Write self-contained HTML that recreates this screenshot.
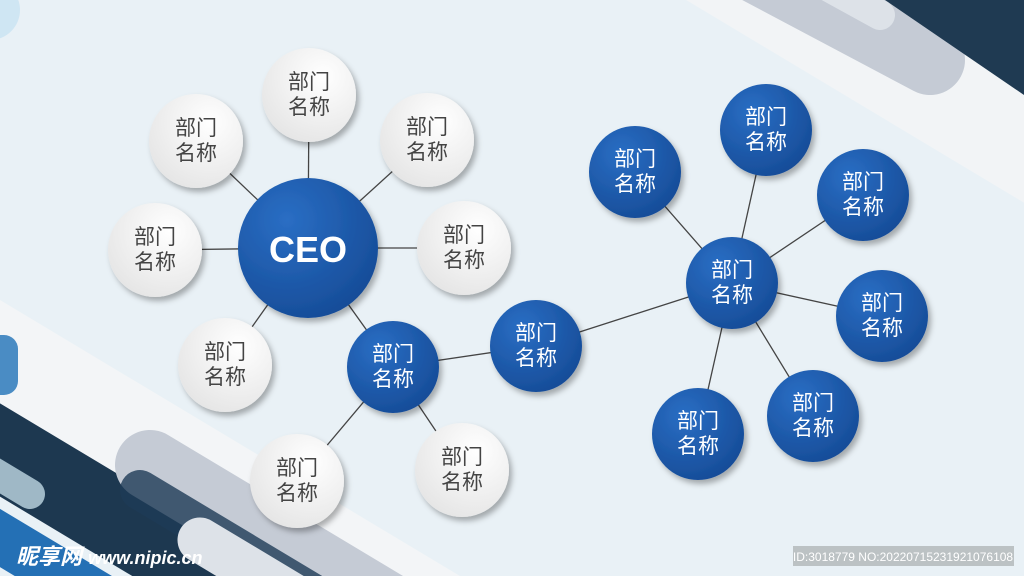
<!DOCTYPE html>
<html><head><meta charset="utf-8"><style>
html,body{margin:0;padding:0;width:1024px;height:576px;overflow:hidden;background:#e9f1f6}
svg{display:block}
text{font-family:"Liberation Sans","Noto Sans CJK SC",sans-serif}
</style></head><body>
<svg width="1024" height="576" viewBox="0 0 1024 576" xmlns="http://www.w3.org/2000/svg">
<defs>
<radialGradient id="bg" cx="35%" cy="30%" r="75%"><stop offset="0" stop-color="#2a6ec4"/><stop offset="1" stop-color="#164c98"/></radialGradient>
<radialGradient id="wg" cx="65%" cy="30%" r="80%"><stop offset="0" stop-color="#ffffff"/><stop offset="1" stop-color="#e4e4e4"/></radialGradient>
<filter id="sh" x="-30%" y="-30%" width="160%" height="160%"><feDropShadow dx="3" dy="4" stdDeviation="3" flood-color="#000" flood-opacity="0.3"/></filter>
</defs>
<rect width="1024" height="576" fill="#e9f1f6"/>
<circle cx="-10" cy="10" r="30" fill="#cfe6f3"/>
<g stroke-linecap="round" fill="none">
<line x1="-100" y1="310" x2="700" y2="790" stroke="#f3f5f7" stroke-width="120"/>
<line x1="-100" y1="390" x2="500" y2="750" stroke="#1d3850" stroke-width="80"/>
<line x1="150" y1="465" x2="600" y2="735" stroke="#c5cbd5" stroke-width="70"/>
<line x1="140" y1="490" x2="400" y2="646" stroke="#1e3b56" stroke-width="40" opacity="0.8"/>
<line x1="200" y1="540" x2="600" y2="780" stroke="#dde2e8" stroke-width="45"/>
<line x1="-80" y1="490" x2="240" y2="682" stroke="#2470b5" stroke-width="50"/>
<line x1="-60" y1="440" x2="30" y2="494" stroke="#9fb8c6" stroke-width="30"/>
<line x1="650" y1="-80" x2="1100" y2="190" stroke="#f2f4f6" stroke-width="100"/>
<line x1="700" y1="-62" x2="930" y2="60" stroke="#c5cbd5" stroke-width="70"/>
<line x1="780" y1="-40" x2="880" y2="15" stroke="#dde2e8" stroke-width="30"/>
</g>
<polygon points="885,0 1024,0 1024,95" fill="#1f3a52"/>
<rect x="-20" y="335" width="38" height="60" rx="14" fill="#4a8cc4"/>
<g stroke="#444" stroke-width="1.3">
<line x1="308" y1="248" x2="309" y2="95"/>
<line x1="308" y1="248" x2="196" y2="141"/>
<line x1="308" y1="248" x2="427" y2="140"/>
<line x1="308" y1="248" x2="464" y2="248"/>
<line x1="308" y1="248" x2="155" y2="250"/>
<line x1="308" y1="248" x2="225" y2="365"/>
<line x1="308" y1="248" x2="393" y2="367"/>
<line x1="393" y1="367" x2="297" y2="481"/>
<line x1="393" y1="367" x2="462" y2="470"/>
<line x1="393" y1="367" x2="536" y2="346"/>
<line x1="536" y1="346" x2="732" y2="283"/>
<line x1="732" y1="283" x2="635" y2="172"/>
<line x1="732" y1="283" x2="766" y2="130"/>
<line x1="732" y1="283" x2="863" y2="195"/>
<line x1="732" y1="283" x2="882" y2="316"/>
<line x1="732" y1="283" x2="813" y2="416"/>
<line x1="732" y1="283" x2="698" y2="434"/>
</g>
<g filter="url(#sh)" fill="url(#wg)">
<circle cx="309" cy="95" r="47"/><circle cx="196" cy="141" r="47"/><circle cx="427" cy="140" r="47"/>
<circle cx="464" cy="248" r="47"/><circle cx="155" cy="250" r="47"/><circle cx="225" cy="365" r="47"/>
<circle cx="297" cy="481" r="47"/><circle cx="462" cy="470" r="47"/>
</g>
<g filter="url(#sh)" fill="url(#bg)">
<circle cx="308" cy="248" r="70"/>
<circle cx="393" cy="367" r="46"/><circle cx="536" cy="346" r="46"/><circle cx="732" cy="283" r="46"/>
<circle cx="635" cy="172" r="46"/><circle cx="766" cy="130" r="46"/><circle cx="863" cy="195" r="46"/>
<circle cx="882" cy="316" r="46"/><circle cx="813" cy="416" r="46"/><circle cx="698" cy="434" r="46"/>
</g>
<text x="308" y="262" text-anchor="middle" font-size="36" font-weight="bold" fill="#fff">CEO</text>
<g font-size="21" text-anchor="middle" fill="#444">
<text x="309" y="89">部门</text><text x="309" y="114">名称</text>
<text x="196" y="135">部门</text><text x="196" y="160">名称</text>
<text x="427" y="134">部门</text><text x="427" y="159">名称</text>
<text x="464" y="242">部门</text><text x="464" y="267">名称</text>
<text x="155" y="244">部门</text><text x="155" y="269">名称</text>
<text x="225" y="359">部门</text><text x="225" y="384">名称</text>
<text x="297" y="475">部门</text><text x="297" y="500">名称</text>
<text x="462" y="464">部门</text><text x="462" y="489">名称</text>
</g>
<g font-size="21" text-anchor="middle" fill="#fff">
<text x="393" y="361">部门</text><text x="393" y="386">名称</text>
<text x="536" y="340">部门</text><text x="536" y="365">名称</text>
<text x="732" y="277">部门</text><text x="732" y="302">名称</text>
<text x="635" y="166">部门</text><text x="635" y="191">名称</text>
<text x="766" y="124">部门</text><text x="766" y="149">名称</text>
<text x="863" y="189">部门</text><text x="863" y="214">名称</text>
<text x="882" y="310">部门</text><text x="882" y="335">名称</text>
<text x="813" y="410">部门</text><text x="813" y="435">名称</text>
<text x="698" y="428">部门</text><text x="698" y="453">名称</text>
</g>
<text x="16" y="564" font-size="22" font-weight="bold" font-style="italic" fill="#fff">昵享网 <tspan font-size="18">www.nipic.cn</tspan></text>
<rect x="793" y="546" width="221" height="20" fill="#bcc2c4"/>
<text x="903" y="561" text-anchor="middle" font-size="12" fill="#fff">ID:3018779 NO:20220715231921076108</text>
</svg>
</body></html>
